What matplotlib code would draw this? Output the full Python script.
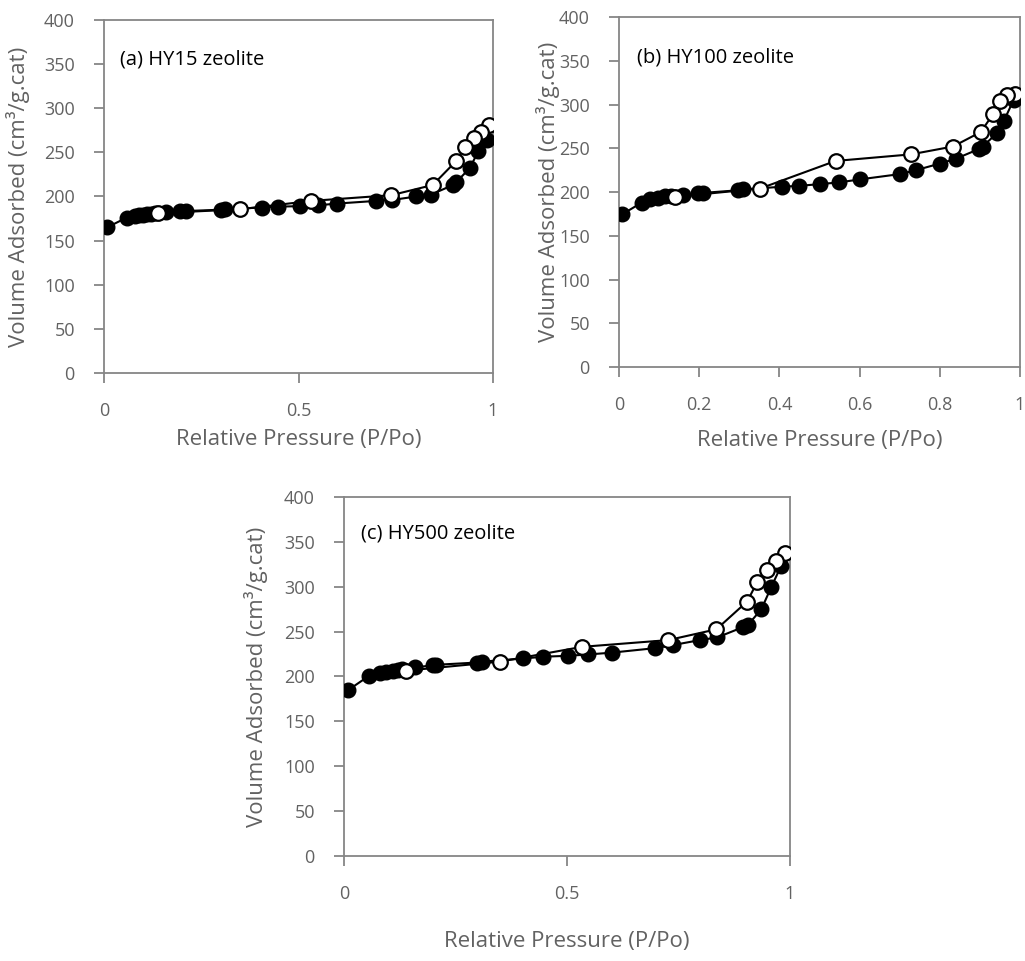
import matplotlib
matplotlib.use('Agg')
import matplotlib.pyplot as plt

plt.rcParams['font.family'] = ['Open Sans', 'DejaVu Sans']

# (a) HY15 zeolite
a_ads_x = [0.008, 0.058, 0.079, 0.09, 0.10, 0.11, 0.12, 0.13, 0.16, 0.195, 0.21, 0.30, 0.31,
           0.405, 0.447, 0.503, 0.55, 0.60, 0.70, 0.74, 0.803, 0.84, 0.897, 0.906, 0.94, 0.962, 0.984]
a_ads_y = [165, 176, 178, 179, 179.5, 180, 180.5, 181, 182.5, 183, 183.5, 185, 185.5,
           187.5, 188.5, 189, 190, 192, 195, 196, 200, 202, 213, 216.5, 232, 251, 264]
a_des_x = [0.99, 0.97, 0.95, 0.928, 0.906, 0.845, 0.739, 0.533, 0.349, 0.139]
a_des_y = [281, 273.5, 266, 256.5, 240.5, 213, 201.5, 195, 185.5, 181]

# (b) HY100 zeolite
b_ads_x = [0.008, 0.057, 0.077, 0.098, 0.115, 0.13, 0.16, 0.198, 0.21, 0.298, 0.31,
           0.406, 0.448, 0.501, 0.549, 0.602, 0.701, 0.741, 0.80, 0.84, 0.897, 0.907,
           0.942, 0.96, 0.984]
b_ads_y = [174.5, 188, 191.5, 193.5, 195, 196, 196.5, 198.5, 199, 202, 203,
           206, 207, 209, 211, 214.5, 220.5, 225, 232.5, 238, 249, 252,
           267, 281.5, 305]
b_des_x = [0.987, 0.967, 0.95, 0.933, 0.902, 0.833, 0.728, 0.54, 0.352, 0.14]
b_des_y = [312.5, 310.5, 304, 289, 268.5, 252, 243, 235.5, 204, 194.5]

# (c) HY500 zeolite
c_ads_x = [0.01, 0.057, 0.081, 0.095, 0.11, 0.12, 0.13, 0.159, 0.2, 0.207, 0.298, 0.31,
           0.402, 0.447, 0.503, 0.548, 0.60, 0.697, 0.738, 0.798, 0.837, 0.895, 0.906,
           0.936, 0.958, 0.98]
c_ads_y = [185, 201, 203.5, 205, 206.5, 207.5, 208, 210, 212.5, 213, 215.5, 216.5,
           220, 222, 223, 224.5, 226.5, 231.5, 235, 240.5, 243.5, 255, 257.5,
           275, 299.5, 323]
c_des_x = [0.989, 0.969, 0.949, 0.927, 0.904, 0.835, 0.727, 0.534, 0.35, 0.14]
c_des_y = [338, 328.5, 318.5, 305.5, 283.5, 252.5, 240.5, 233, 216.5, 206.5]

panels = [
    ('(a) HY15 zeolite', a_ads_x, a_ads_y, a_des_x, a_des_y,
     [0.1015, 0.6119, 0.3795, 0.3673], [0, 0.5, 1], ['0', '0.5', '1'],
     (-0.19, 0.5), (0.5, -0.16), (0.041, 0.887)),
    ('(b) HY100 zeolite', b_ads_x, b_ads_y, b_des_x, b_des_y,
     [0.6039, 0.6181, 0.3912, 0.3642], [0, 0.2, 0.4, 0.6, 0.8, 1],
     ['0', '0.2', '0.4', '0.6', '0.8', '1'],
     (-0.147, 0.5), (0.5, -0.18), (0.045, 0.885)),
    ('(c) HY500 zeolite', c_ads_x, c_ads_y, c_des_x, c_des_y,
     [0.3356, 0.1093, 0.4351, 0.3736], [0, 0.5, 1], ['0', '0.5', '1'],
     (-0.17, 0.5), (0.5, -0.21), (0.038, 0.897)),
]

grey = '#626262'
spine_c = '#868686'

fig = plt.figure(figsize=(10.25, 9.61), dpi=100)

for title, ax_x, ax_y, de_x, de_y, rect, xt, xtl, ylab_pos, xlab_pos, txt_pos in panels:
    ax = fig.add_axes(rect)
    ax.plot(ax_x, ax_y, '-o', color='black', lw=1.5, ms=10.5,
            mfc='black', mec='black', zorder=3)
    ax.plot(de_x, de_y, '-o', color='black', lw=1.5, ms=10.5,
            mfc='white', mec='black', mew=1.6, zorder=4)
    ax.set_xlim(0, 1)
    ax.set_ylim(0, 400)
    ax.set_xticks(xt)
    ax.set_xticklabels(xtl)
    ax.set_yticks(range(0, 401, 50))
    for s in ax.spines.values():
        s.set_color(spine_c)
        s.set_linewidth(1.3)
    ax.tick_params(direction='out', length=7, width=1.3, color=spine_c,
                   labelcolor=grey, labelsize=13)
    ax.tick_params(axis='x', pad=14)
    ax.tick_params(axis='y', pad=14)
    ax.set_ylabel('Volume Adsorbed (cm³/g.cat)', fontsize=16, color=grey)
    ax.set_xlabel('Relative Pressure (P/Po)', fontsize=16, color=grey)
    ax.yaxis.set_label_coords(*ylab_pos)
    ax.xaxis.set_label_coords(*xlab_pos)
    ax.text(txt_pos[0], txt_pos[1], title, transform=ax.transAxes,
            fontsize=14.5, color='black', va='center', ha='left')

fig.savefig('out.png', dpi=100)
